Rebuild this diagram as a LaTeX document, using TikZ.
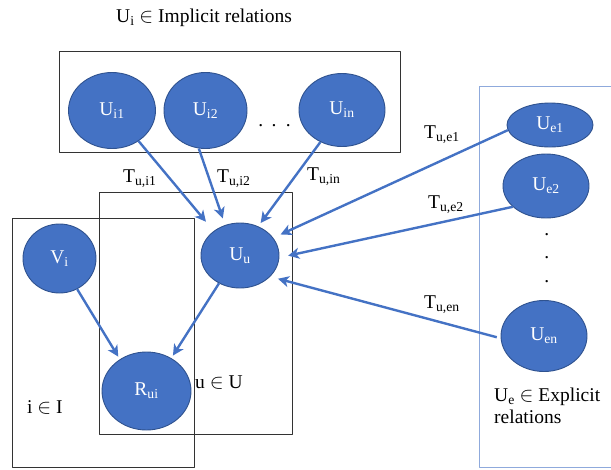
\documentclass[tikz,border=0pt]{standalone}
\usepackage{fontspec}
\setmainfont{Liberation Serif}
\usetikzlibrary{arrows.meta,shapes.geometric}
\definecolor{varblue}{HTML}{4472C4}
\definecolor{varedge}{HTML}{2F528F}
\definecolor{plateblue}{HTML}{8FAADC}

\begin{document}
\begin{tikzpicture}[
  x=1pt,
  y=-1pt,
  line join=round,
  var/.style={ellipse,fill=varblue,draw=varedge,line width=0.9pt,inner sep=0pt,
    text=white,font=\fontsize{19.5}{21.6}\selectfont},
  plate/.style={draw=black!80,line width=0.9pt},
  explicitplate/.style={draw=plateblue,line width=1pt},
  link/.style={draw=varblue,line width=2.4pt,-{Stealth[length=11pt,width=11pt,inset=3pt]}},
  lbl/.style={font=\fontsize{19.5}{21.6}\selectfont,inner sep=0pt,anchor=base west}
]
  \useasboundingbox (0,0) rectangle (611,469);

  % Plates: implicit relations, users, items, explicit relations.
  \draw[plate] (59,51) rectangle (400,152);
  \draw[plate] (99,192) rectangle (292,434);
  \draw[plate] (12,218) rectangle (194,467);
  \draw[explicitplate] (612,86) -- (479,86) -- (479,467.5) -- (612,467.5);

  % Implicit neighbours.
  \node[var,minimum width=87pt,minimum height=76pt] (ui1) at (112,110.5) {U\textsubscript{i1}};
  \node[var,minimum width=83pt,minimum height=76pt] (ui2) at (205.5,110.5) {U\textsubscript{i2}};
  \node[var,minimum width=86pt,minimum height=73pt] (uin) at (342,110) {U\textsubscript{in}};
  \foreach \dx [count=\k] in {260.7,274,288.3} {
    \node[lbl,anchor=base] (hdot\k) at (\dx,126.5) {.};
  }

  % Explicit neighbours.
  \node[var,minimum width=86pt,minimum height=44pt] (ue1) at (550,125) {U\textsubscript{e1}};
  \node[var,minimum width=86pt,minimum height=64pt] (ue2) at (546,186) {U\textsubscript{e2}};
  \node[var,minimum width=86pt,minimum height=71pt] (uen) at (544,336) {U\textsubscript{en}};
  \foreach \dy [count=\k] in {235.5,258.5,282.5} {
    \node[lbl,anchor=base] (vdot\k) at (546.7,\dy) {.};
  }

  % User, item and rating.
  \node[var,minimum width=73pt,minimum height=69pt] (vi) at (59.5,258.5) {V\textsubscript{i}};
  \node[var,minimum width=78pt,minimum height=65pt] (uu) at (240,255.5) {U\textsubscript{u}};
  \node[var,minimum width=89pt,minimum height=78pt] (rui) at (146.5,391) {R\textsubscript{ui}};

  % Plate and edge labels.
  \node[lbl] (implicit) at (116,22.7) {U\textsubscript{i} $\in$ Implicit relations};
  \node[lbl,align=left,anchor=north west] (explicit) at (494,388) {U\textsubscript{e} $\in$ Explicit\\relations};
  \node[lbl] (uset) at (195,388) {u $\in$ U};
  \node[lbl] (iset) at (27,413) {i $\in$ I};
  \node[lbl] (tui1) at (123,182) {T\textsubscript{u,i1}};
  \node[lbl] (tui2) at (217,182) {T\textsubscript{u,i2}};
  \node[lbl] (tuin) at (307,180) {T\textsubscript{u,in}};
  \node[lbl] (tue1) at (424,138) {T\textsubscript{u,e1}};
  \node[lbl] (tue2) at (428,208) {T\textsubscript{u,e2}};
  \node[lbl] (tuen) at (424,308) {T\textsubscript{u,en}};

  % Trust links into the user, then user and item into the rating.
  \draw[link,shorten >=12pt] (ui1.311) -- (uu.137);
  \draw[link,shorten >=7pt] (ui2.260) -- (uu.116);
  \draw[link,shorten >=4pt] (uin.236) -- (uu.58);
  \draw[link,shorten >=8pt] (ue1.187) -- (uu.28);
  \draw[link,shorten >=9pt] (ue2.212) -- (uu.357);
  \draw[link,shorten <=4pt,shorten >=8pt] (uen.183) -- (uu.325);
  \draw[link,shorten >=3pt] (vi.300) -- (rui.130);
  \draw[link,shorten >=3pt] (uu.233) -- (rui.53);
\end{tikzpicture}
\end{document}
